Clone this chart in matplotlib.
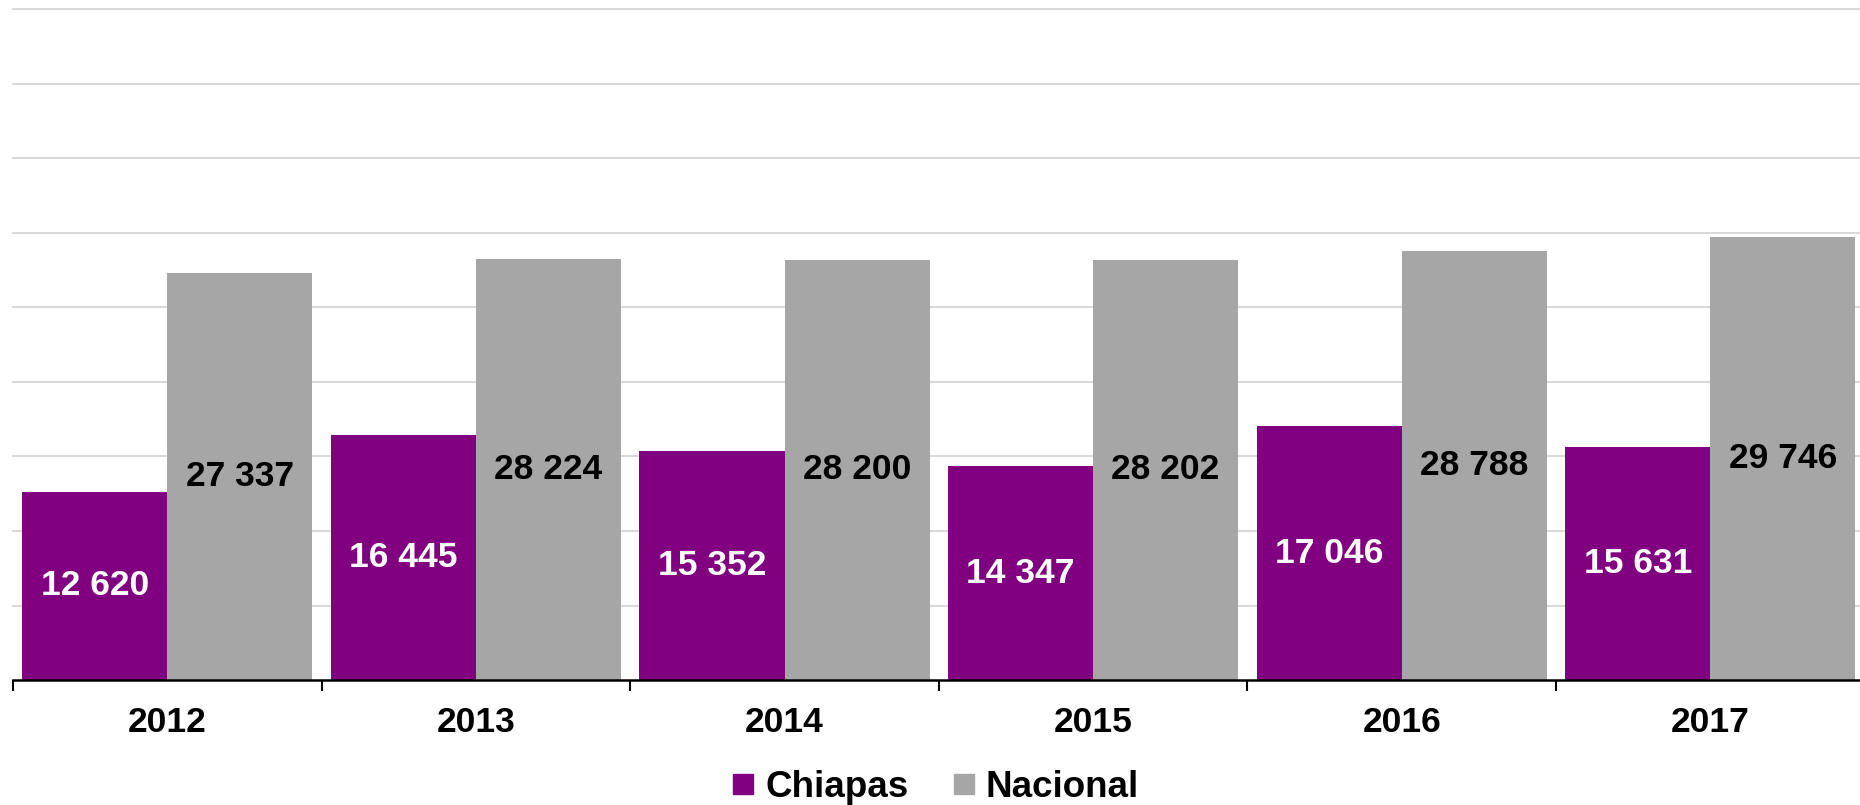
import numpy as np
import matplotlib
matplotlib.use("Agg")
import matplotlib.pyplot as plt
from matplotlib.lines import Line2D

plt.rcParams['font.family'] = ['Liberation Sans', 'DejaVu Sans']

# data
years = ["2012", "2013", "2014", "2015", "2016", "2017"]
chiapas = [12620, 16445, 15352, 14347, 17046, 15631]
nacional = [27337, 28224, 28200, 28202, 28788, 29746]

purple = "#800080"
grey = "#a6a6a6"

fig = plt.figure(figsize=(18.6, 8.05), dpi=100)
ax = fig.add_axes([13 / 1860, 125 / 805, 1851.6 / 1860, 670.5 / 805])

x = np.arange(len(years))
w = 0.47

b1 = ax.bar(x - w / 2, chiapas, width=w, color=purple, linewidth=0, zorder=3)
b2 = ax.bar(x + w / 2, nacional, width=w, color=grey, linewidth=0, zorder=3)

def fmt(v):
    return f"{v:,}".replace(",", " ")

# value labels centred in each bar
for rect, v in zip(b1, chiapas):
    ax.text(rect.get_x() + rect.get_width() / 2, v / 2, fmt(v),
            ha="center", va="center", color="white",
            fontsize=25.5, fontweight="bold", zorder=4)
for rect, v in zip(b2, nacional):
    ax.text(rect.get_x() + rect.get_width() / 2, v / 2, fmt(v),
            ha="center", va="center", color="black",
            fontsize=25.5, fontweight="bold", zorder=4)

ax.set_xlim(-0.5, len(years) - 0.5)
ax.set_ylim(0, 45000)
ax.set_yticks(np.arange(5000, 45001, 5000))
ax.yaxis.grid(True, color="#d9d9d9", linewidth=1.5, zorder=0)
for gl in ax.get_ygridlines():
    gl.set_clip_on(False)
ax.tick_params(axis="y", length=0, labelleft=False)

ax.set_xticks(x)
ax.set_xticklabels(years, fontsize=25.5, fontweight="bold")
ax.set_xticks(np.arange(-0.5, len(years), 1), minor=True)
ax.tick_params(axis="x", which="major", length=0, pad=19)
ax.tick_params(axis="x", which="minor", length=8, width=1.5, direction="out")

for s in ["top", "right", "left"]:
    ax.spines[s].set_visible(False)
ax.spines["bottom"].set_linewidth(1.8)
ax.spines["bottom"].set_zorder(5)

handles = [Line2D([], [], marker="s", linestyle="", markersize=15,
                  markerfacecolor=purple, markeredgecolor=purple),
           Line2D([], [], marker="s", linestyle="", markersize=15,
                  markerfacecolor=grey, markeredgecolor=grey)]
fig.legend(handles, ["Chiapas", "Nacional"], loc="center",
           bbox_to_anchor=(0.503, 0.022), ncol=2, frameon=False,
           prop={"size": 26.5, "weight": "bold"},
           handlelength=0.6, handletextpad=0.3, columnspacing=1.2)

fig.savefig("out.png", dpi=100)
